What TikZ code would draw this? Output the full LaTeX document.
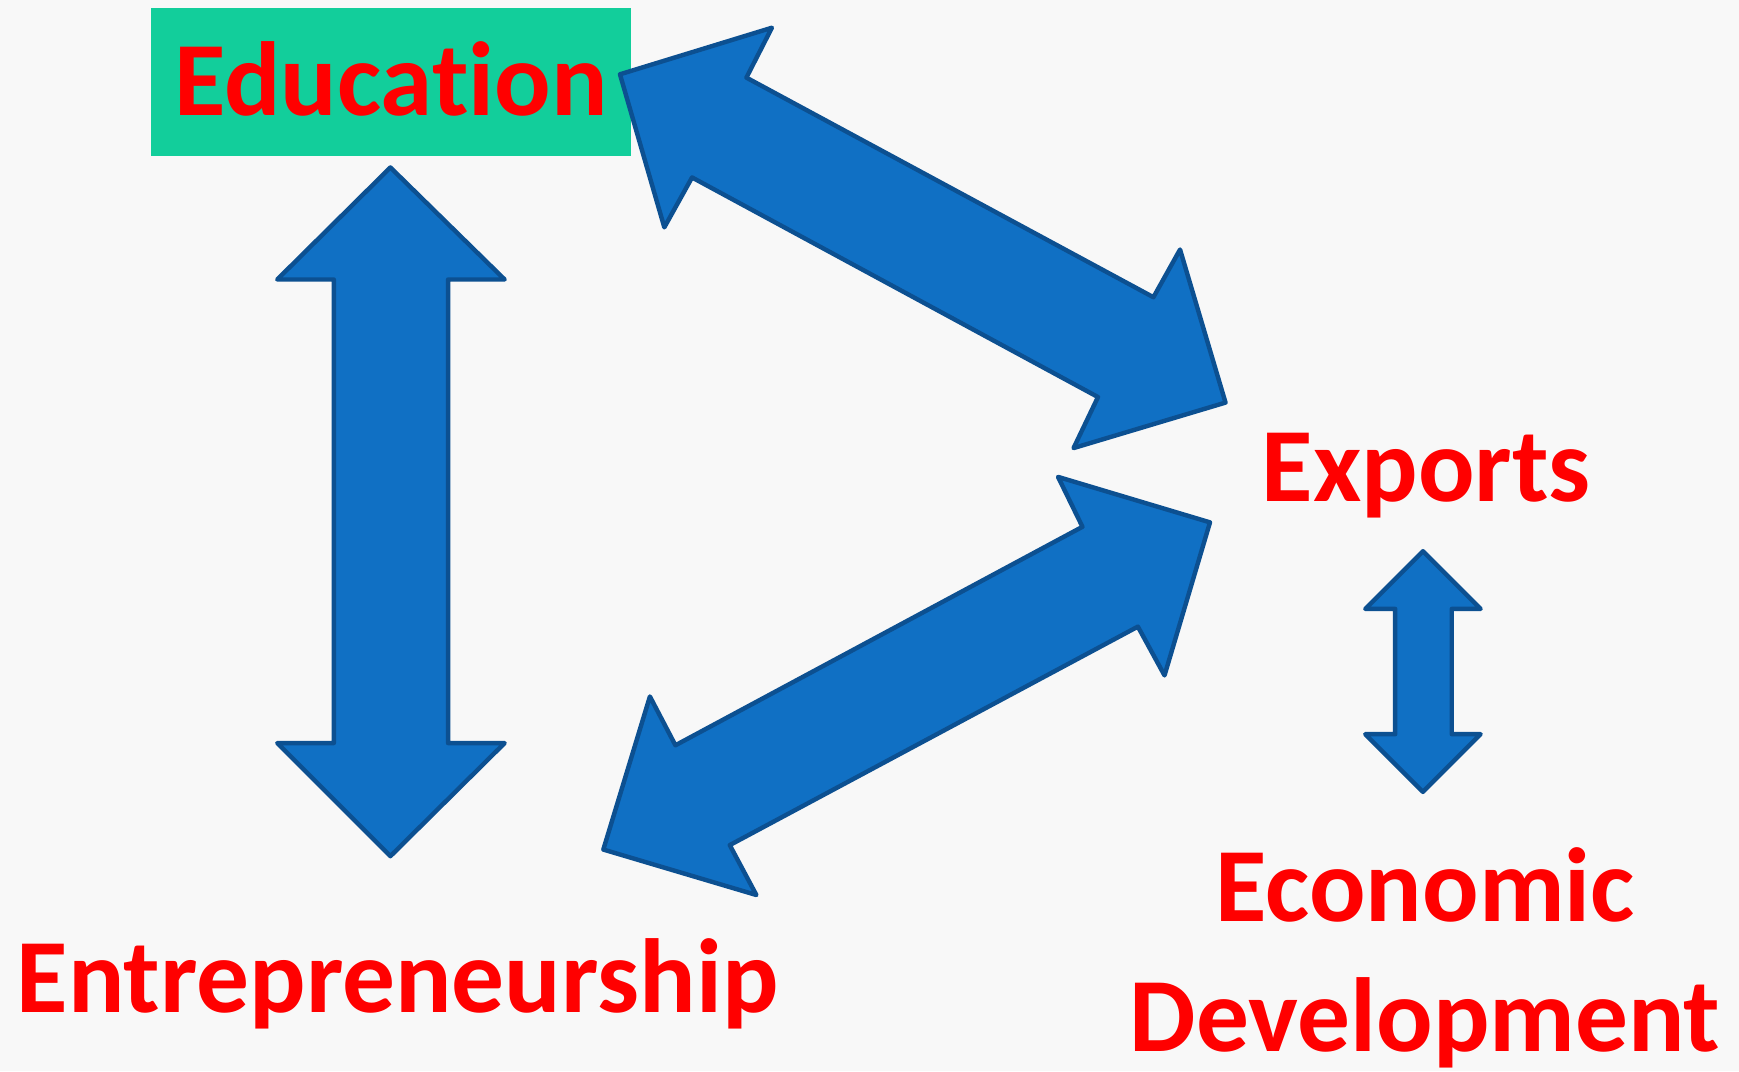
\documentclass[tikz,border=0pt]{standalone}
\usepackage{fontspec}
\setmainfont[Ligatures=NoCommon]{Carlito}
\definecolor{bgc}{RGB}{248,248,248}
\definecolor{arrowblue}{RGB}{16,112,196}
\definecolor{arrowedge}{RGB}{12,80,145}
\definecolor{edugreen}{RGB}{18,206,155}
\definecolor{labelred}{RGB}{255,0,0}
\begin{document}
\begin{tikzpicture}[x=1pt,y=-1pt,
  blk/.style={fill=arrowblue, draw=arrowedge, line width=4pt, line join=round},
  lbl/.style={text=labelred, font=\fontsize{95}{117}\selectfont\bfseries, inner sep=0pt}]
\fill[bgc] (0,0) rectangle (1568,966);
\useasboundingbox (0,0) rectangle (1568,966);
% labels
\node[lbl, fill=edugreen, minimum width=433pt, minimum height=134pt, text height=61pt, text depth=0pt] (edu) at (352.5,74) {Education};
\node[lbl, anchor=base] (exp) at (1286,452) {Exports};
\node[lbl, anchor=base] (ent) at (358.5,913) {Entrepreneurship};
\node[lbl, align=center, anchor=base] (eco) at (1285,948) {Economic\\Development};
% vertical double arrow Education <-> Entrepreneurship
\draw[blk] (352,151) -- (455,252) -- (404,252) -- (404,670) -- (455,670) -- (352,772)
  -- (250,670) -- (301,670) -- (301,252) -- (250,252) -- cycle;
% small double arrow Exports <-> Economic Development
\draw[blk] (1283,497) -- (1335,549) -- (1309,549) -- (1309,662) -- (1335,662) -- (1283,714)
  -- (1231,662) -- (1258,662) -- (1258,549) -- (1231,549) -- cycle;
% Education <-> Exports
\draw[blk] (559,67) -- (696,25) -- (673,70) -- (1040,268) -- (1064,225) -- (1105,363)
  -- (968,404) -- (990,358) -- (624,160) -- (599,205) -- cycle;
% Exports <-> Entrepreneurship
\draw[blk] (1091,471) -- (954,430) -- (976,475) -- (609,672) -- (586,628) -- (544,766)
  -- (682,807) -- (658,762) -- (1026,565) -- (1050,609) -- cycle;
\end{tikzpicture}
\end{document}
